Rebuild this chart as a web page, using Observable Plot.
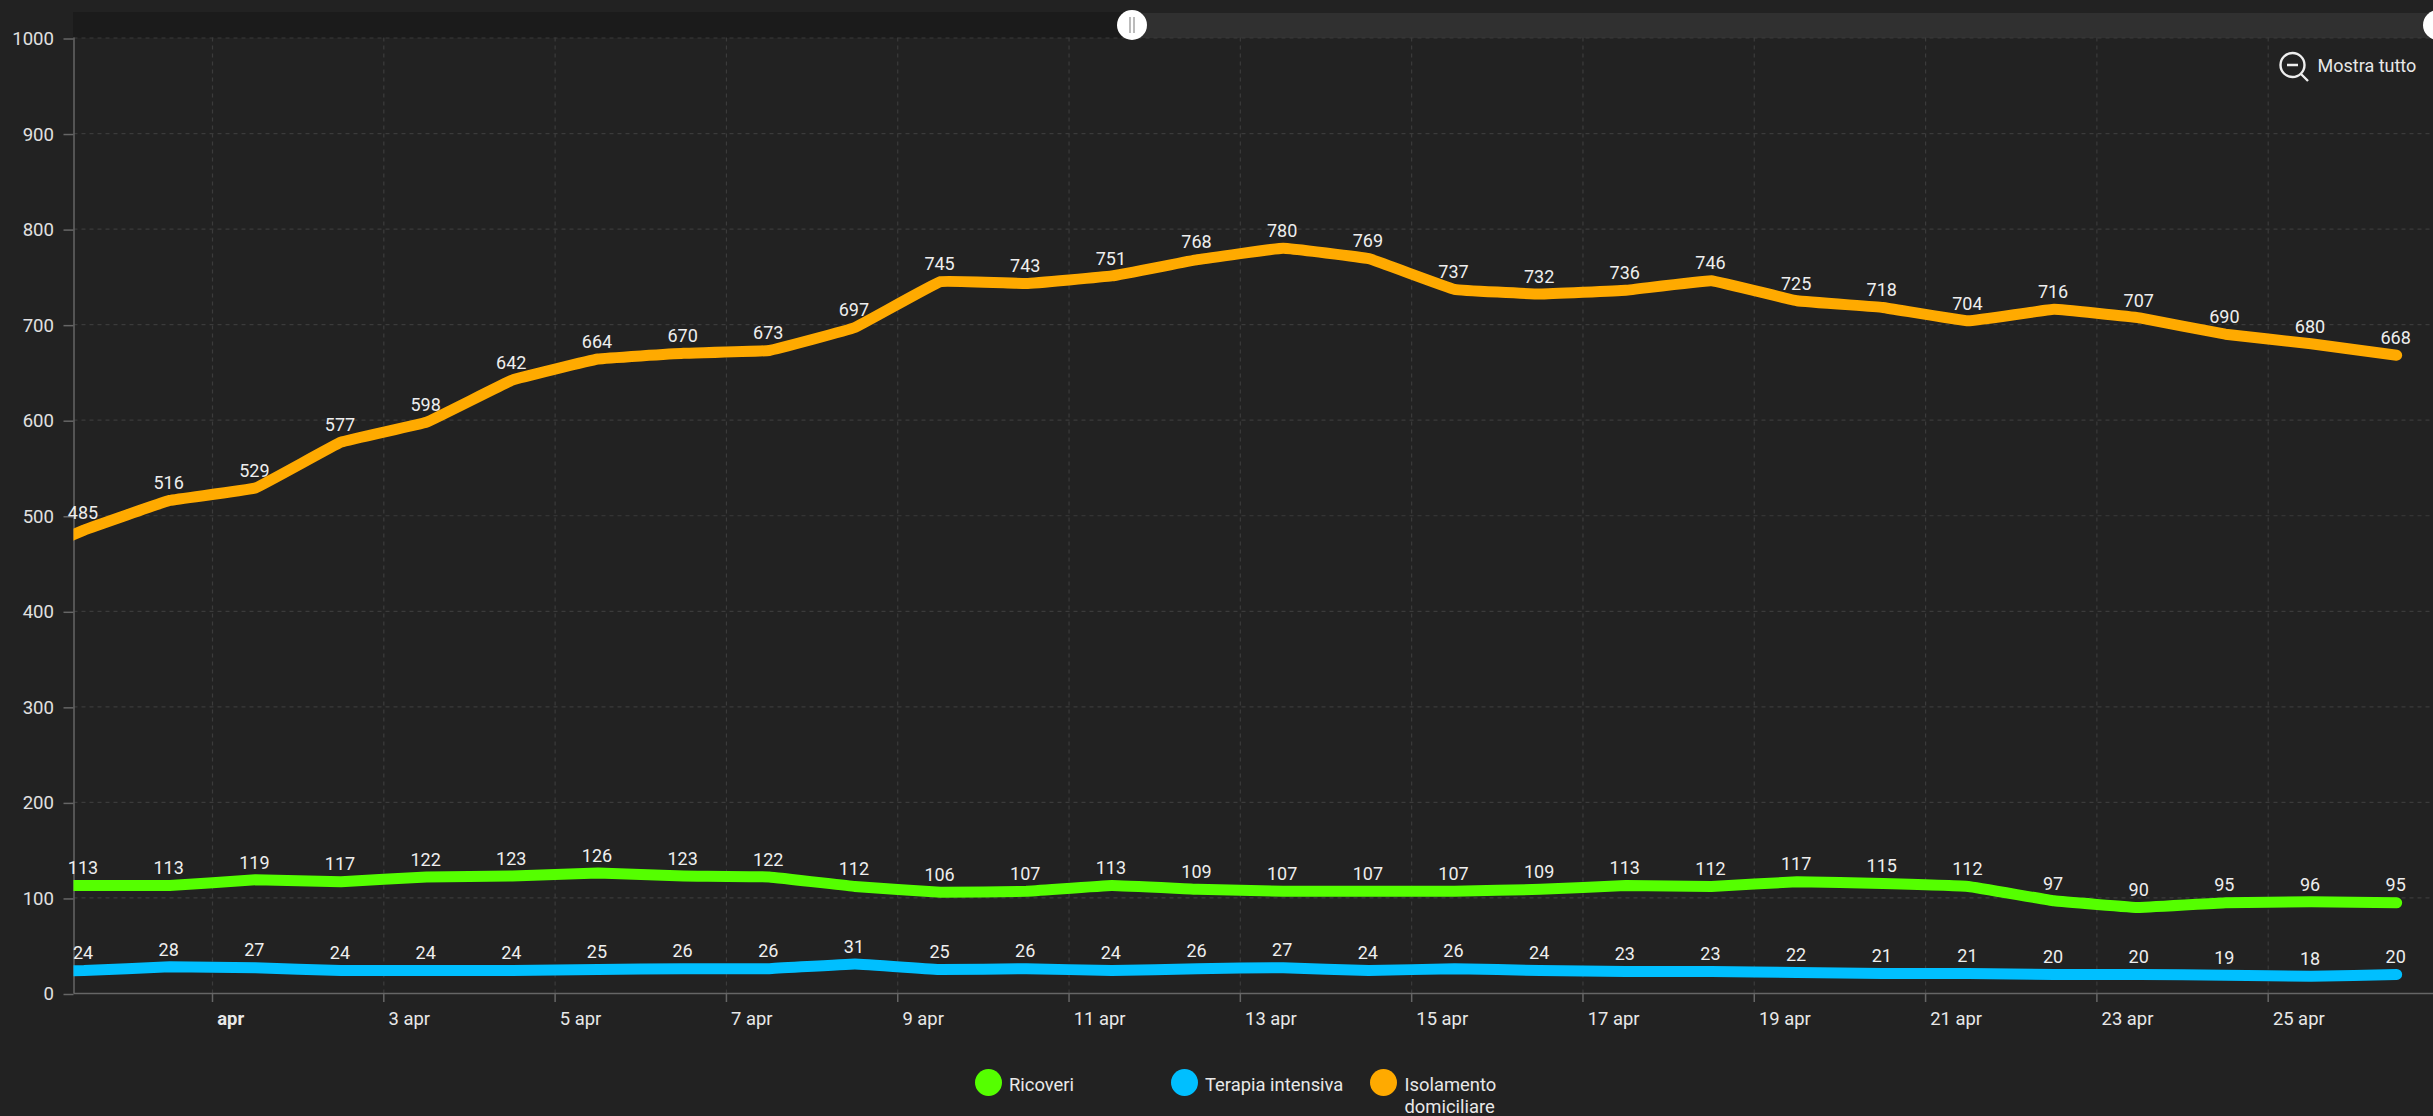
<!DOCTYPE html>
<html><head><meta charset="utf-8">
<script src="https://cdn.jsdelivr.net/npm/d3@7"></script>
<script src="https://cdn.jsdelivr.net/npm/@observablehq/plot@0.6"></script>
<style>
html,body{margin:0;padding:0;background:#222222;overflow:hidden}
#wrap{position:relative;width:2433px;height:1116px;font-family:Roboto,sans-serif;color:#e8e8e8}
#wrap svg.main{position:absolute;left:0;top:0}
.abs{position:absolute}
.leg{position:absolute;font-size:18.4px;line-height:22px;white-space:nowrap}
.dot{position:absolute;width:27px;height:27px;border-radius:50%}
</style></head><body>
<div id="wrap">
  <div class="abs" style="left:73px;top:12px;width:1060px;height:26px;background:#1b1b1b"></div>
  <div class="abs" style="left:1133px;top:13px;width:1300px;height:25px;background:#303030"></div>
  <div id="chart"></div>
  <div class="abs" style="left:1117px;top:10px;width:30px;height:30px;border-radius:50%;background:#fff"></div>
  <div class="abs" style="left:1129px;top:17px;width:2px;height:16px;background:#bbb"></div>
  <div class="abs" style="left:1133px;top:17px;width:2px;height:16px;background:#bbb"></div>
  <div class="abs" style="left:2423px;top:10px;width:30px;height:30px;border-radius:50%;background:#fff"></div>
  <svg class="abs" style="left:2276px;top:50px" width="34" height="34" viewBox="0 0 34 34" fill="none" stroke="#eee" stroke-width="2.4">
    <circle cx="16.5" cy="15" r="12"/><path d="M11 15h11M25 24l7 7"/>
  </svg>
  <div class="abs" style="left:2317.5px;top:55px;font-size:18px;line-height:22px;color:#e8e8e8">Mostra tutto</div>
  <div class="dot" style="left:975px;top:1069px;background:#55ff00"></div>
  <div class="leg" style="left:1009px;top:1074px">Ricoveri</div>
  <div class="dot" style="left:1171px;top:1069px;background:#00bfff"></div>
  <div class="leg" style="left:1205px;top:1074px">Terapia intensiva</div>
  <div class="dot" style="left:1370px;top:1069px;background:#ffaa00"></div>
  <div class="leg" style="left:1404.5px;top:1074px">Isolamento<br>domiciliare</div>
</div>
<script>
// 29 Mar (off-plot, estimated) through 26 Apr, plotted at midday
const days = ["03-29","03-30","03-31","04-01","04-02","04-03","04-04","04-05","04-06","04-07","04-08","04-09","04-10","04-11","04-12","04-13","04-14","04-15","04-16","04-17","04-18","04-19","04-20","04-21","04-22","04-23","04-24","04-25","04-26"];
const ricoveri = [113,113,113,119,117,122,123,126,123,122,112,106,107,113,109,107,107,107,109,113,112,117,115,112,97,90,95,96,95];
const terapia = [23,24,28,27,24,24,24,25,26,26,31,25,26,24,26,27,24,26,24,23,23,22,21,21,20,20,19,18,20];
const isolamento = [446,485,516,529,577,598,642,664,670,673,697,745,743,751,768,780,769,737,732,736,746,725,718,704,716,707,690,680,668];
const yTicks = [0,100,200,300,400,500,600,700,800,900,1000];
const xTickDays = ["04-01","04-03","04-05","04-07","04-09","04-11","04-13","04-15","04-17","04-19","04-21","04-23","04-25"];
const xTickLabels = ["apr","3 apr","5 apr","7 apr","9 apr","11 apr","13 apr","15 apr","17 apr","19 apr","21 apr","23 apr","25 apr"];
const seriesNames = ["Ricoveri","Terapia intensiva","Isolamento domiciliare"];
const seriesColors = ["#55ff00","#00bfff","#ffaa00"];
const seriesValues = [ricoveri,terapia,isolamento];

const midday = d => new Date(`2020-${d}T12:00:00Z`);
const midnight = d => new Date(`2020-${d}T00:00:00Z`);
const rows = seriesNames.flatMap((name,s) => days.map((d,i) => ({name, date:midday(d), value:seriesValues[s][i], shown:i>0})));
const ticks = xTickDays.map((d,i) => ({date:midnight(d), label:xTickLabels[i], bold:i===0}));
const ms = 864e5;
const t0 = +midnight("04-01");
const grid = "#3b3b3b", axis = "#666666";
const xLabel = {x:"date", frameAnchor:"bottom", text:"label", textAnchor:"start", dx:4.7, dy:31, fill:"#e8e8e8", fontSize:18.4};

const chart = Plot.plot({
  width:2433, height:1116,
  marginLeft:73.5, marginRight:0, marginTop:37.5, marginBottom:123,
  style:{background:"transparent", fontFamily:"Roboto, sans-serif", overflow:"visible"},
  x:{type:"utc", domain:[new Date(t0-1.617*ms), new Date(t0+25.93*ms)]},
  y:{domain:[0,1000]},
  color:{domain:seriesNames, range:seriesColors},
  marks:[
    Plot.gridY({ticks:yTicks, stroke:grid, strokeOpacity:1, strokeWidth:1.2, strokeDasharray:"4 4"}),
    Plot.gridX({ticks:ticks.map(d=>d.date), stroke:grid, strokeOpacity:1, strokeWidth:1.2, strokeDasharray:"4 4"}),
    Plot.axisY({ticks:yTicks, tickSize:10, tickPadding:10, tickFormat:String, label:null, stroke:axis, strokeWidth:1.5, fill:"#e0e0e0", fontSize:18.6, dy:1, marginLeft:73.5}),
    Plot.axisX({ticks:ticks.map(d=>d.date), tickSize:9, text:null, label:null, stroke:axis, strokeWidth:1.5}),
    Plot.ruleY([0],{stroke:axis, strokeWidth:1.5}),
    Plot.ruleX([new Date(t0-1.617*ms)],{stroke:axis, strokeWidth:1.5}),
    Plot.line(rows,{x:"date", y:"value", z:"name", stroke:"name", strokeWidth:11, curve:"cardinal", tension:0.8, clip:true, strokeLinecap:"round", strokeLinejoin:"round"}),
    Plot.text(rows.filter(d=>d.shown),{x:"date", y:"value", text:d=>String(d.value), dx:-1, dy:-17, fill:"#eeeeee", fontSize:18}),
    Plot.text(ticks.filter(d=>!d.bold),xLabel),
    Plot.text(ticks.filter(d=>d.bold),{...xLabel, fontWeight:700})
  ]
});
chart.classList.add("main");
document.getElementById("chart").appendChild(chart);
</script>
</body></html>
